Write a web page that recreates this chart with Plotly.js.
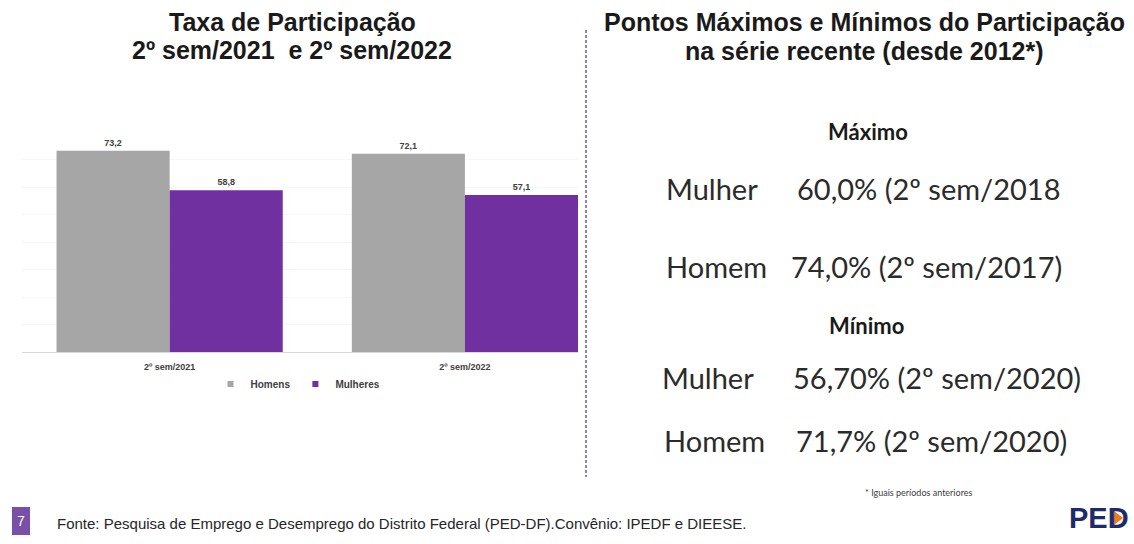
<!DOCTYPE html>
<html>
<head>
<meta charset="utf-8">
<script src="https://cdn.plot.ly/plotly-3.0.1.min.js"></script>
<style>
  html, body { margin: 0; padding: 0; background: #fff; }
  #chart { width: 1134px; height: 544px; }
</style>
</head>
<body>
<div id="chart"></div>
<script>
// data
var periods = ["2º sem/2021", "2º sem/2022"];
var homens = [73.2, 72.1];
var mulheres = [58.8, 57.1];
var seriesNames = ["Homens", "Mulheres"];
var seriesColors = ["#a6a6a6", "#7030a0"];

// extremes of the recent series (text on the right)
var extremeLabels = ["Mulher", "Homem", "Mulher", "Homem"];
var extremeValues = ["60,0% (2º sem/2018", "74,0% (2º sem/2017)", "56,70% (2º sem/2020)", "71,7% (2º sem/2020)"];

var W = 1134, H = 544;
function px(x) { return x / W; }
function py(y) { return 1 - y / H; }

var barFont = {family: "Liberation Sans", size: 9, color: "#404040"};

var traces = [homens, mulheres].map(function (vals, k) {
  return {
    type: "bar",
    name: seriesNames[k],
    x: periods,
    y: vals,
    marker: {color: seriesColors[k]},
    texttemplate: "<b>%{y:.1f}</b>",
    textposition: "outside",
    textfont: barFont,
    cliponaxis: false,
    showlegend: false
  };
});

// small square legend keys, like the original
seriesNames.forEach(function (n, k) {
  traces.push({
    type: "scatter", mode: "markers", name: n,
    x: [null], y: [null],
    marker: {symbol: "square", size: 6, color: seriesColors[k]},
    showlegend: true
  });
});

function note(text, x, y, font, xanchor) {
  return {
    text: text, x: px(x), y: py(y), xref: "paper", yref: "paper",
    xanchor: xanchor || "center", yanchor: "middle", showarrow: false, font: font
  };
}

var titleFont = {family: "Liberation Sans", size: 25, color: "#1a1a1a"};
var headFont = {family: "Lato", size: 22, color: "#1a1a1a"};
var bodyFont = {family: "Lato", size: 29, color: "#2b2b2b"};

var annotations = [
  note("<b>Taxa de Participação</b>", 292, 22, titleFont),
  note("<b>2º sem/2021  e 2º sem/2022</b>", 292, 50, titleFont),
  note("<b>Pontos Máximos e Mínimos do Participação</b>", 864, 22, titleFont),
  note("<b>na série recente (desde 2012*)</b>", 864, 51, titleFont),
  note("<b>Máximo</b>", 868, 131, headFont),
  note("<b>Mínimo</b>", 866, 325, headFont)
];

var rowsY = [188, 266, 377, 440];
var labelX = [664, 664, 660, 662];
var valueX = [795, 789, 791, 794];
for (var i = 0; i < extremeLabels.length; i++) {
  annotations.push(note(extremeLabels[i], labelX[i], rowsY[i], bodyFont, "left"));
  annotations.push(note(extremeValues[i], valueX[i], rowsY[i], bodyFont, "left"));
}

annotations.push(
  note("* Iguais períodos anteriores", 918, 492, {family: "Lato", size: 9, color: "#404040"}),
  note("7", 21, 521, {family: "Liberation Sans", size: 14, color: "#ffffff"}),
  note("Fonte: Pesquisa de Emprego e Desemprego do Distrito Federal (PED-DF).Convênio: IPEDF e DIEESE.",
       55, 523, {family: "Liberation Sans", size: 15, color: "#262626"}, "left"),
  note("<b>PED</b>", 1099, 518, {family: "Liberation Sans", size: 29, color: "#1f2a6b"})
);

var shapes = [
  // dashed divider
  {type: "line", xref: "paper", yref: "paper", x0: px(586), x1: px(586), y0: py(30), y1: py(477),
   line: {color: "#8b84c4", width: 2, dash: "3px,2px"}},
  // slide number box
  {type: "rect", xref: "paper", yref: "paper", x0: px(12), x1: px(30), y0: py(535), y1: py(507),
   fillcolor: "#7a4fa8", line: {width: 0}},
  // orange arrow inside the D of the logo
  {type: "path", xref: "paper", yref: "paper",
   path: "M " + px(1114) + "," + py(511) + " L " + px(1123) + "," + py(518) + " L " + px(1114) + "," + py(525) + " Z",
   fillcolor: "#f0781e", line: {width: 0}}
];

var layout = {
  width: W,
  height: H,
  margin: {l: 0, r: 0, t: 0, b: 0},
  paper_bgcolor: "#ffffff",
  plot_bgcolor: "#ffffff",
  separators: ",.",
  barmode: "group",
  bargap: 0.234,
  bargroupgap: 0,
  showlegend: true,
  legend: {
    orientation: "h",
    x: px(298), y: py(384), xanchor: "center", yanchor: "middle",
    font: {family: "Liberation Sans", size: 10, color: "#404040", weight: "bold"},
    itemwidth: 30, traceorder: "normal", tracegroupgap: 0
  },
  xaxis: {
    domain: [px(22), px(578)],
    range: [-0.5, 1.383],
    showline: true, linecolor: "#d9d9d9", linewidth: 1,
    ticks: "", showgrid: false, zeroline: false,
    ticklabelstandoff: 6,
    tickfont: {family: "Liberation Sans", size: 9, color: "#404040", weight: "bold"}
  },
  yaxis: {
    domain: [py(352), py(132)],
    range: [0, 80],
    dtick: 10,
    showticklabels: false,
    showgrid: true, gridcolor: "#f7f7f7",
    zeroline: false, ticks: ""
  },
  annotations: annotations,
  shapes: shapes
};

Plotly.newPlot("chart", traces, layout, {displayModeBar: false, staticPlot: true});
</script>
</body>
</html>
